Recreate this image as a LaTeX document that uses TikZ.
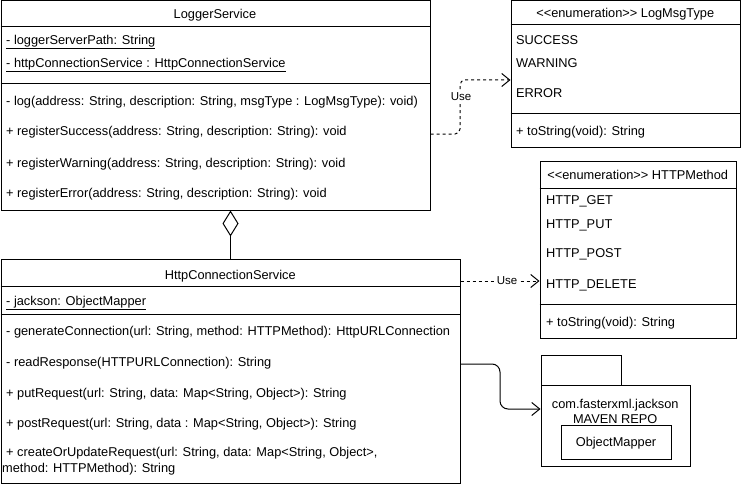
\documentclass[tikz,border=0pt]{standalone}
\usepackage{fontspec}
\setmainfont{Liberation Sans}
\usetikzlibrary{arrows.meta}
\begin{document}
\begin{tikzpicture}[x=1pt,y=-1pt,
  box/.style={draw, line width=1pt, anchor=north west, inner sep=0pt},
  sep/.style={line width=1pt},
  txt/.style={anchor=base west, inner sep=0pt, font=\fontsize{12.8}{15}\selectfont},
  ctxt/.style={anchor=base, inner sep=0pt, font=\fontsize{12.8}{15}\selectfont},
  lbl/.style={fill=white, inner sep=1pt, font=\fontsize{11.5}{13}\selectfont},
  usearrow/.style={line width=1pt, dash pattern=on 3pt off 3pt, rounded corners=5pt, -{Straight Barb[length=8pt,width=13pt,line width=1pt]}},
  solidarrow/.style={line width=1pt, rounded corners=8pt, -{Straight Barb[length=8pt,width=13pt,line width=1pt]}}]
\useasboundingbox (0,0) rectangle (741,484);

% LoggerService
\node[box, minimum width=429.5pt, minimum height=209.5pt] (ls) at (0.5,0.5) {};
\draw[sep] (0.5,26.5) -- (430,26.5);
\draw[sep] (0.5,84) -- (430,84);
\node[ctxt] (lsh) at (215,18.3) {LoggerService};
\node[txt] (ls1) at (6,44.5) {\underline{- loggerServerPath: String}};
\node[txt] (ls2) at (6,67.5) {\underline{- httpConnectionService : HttpConnectionService}};
\node[txt] (ls3) at (6,105.5) {- log(address: String, description: String, msgType : LogMsgType): void)};
\node[txt] (ls4) at (6,135.5) {+ registerSuccess(address: String, description: String): void};
\node[txt] (ls5) at (6,167.5) {+ registerWarning(address: String, description: String): void};
\node[txt] (ls6) at (6,197.5) {+ registerError(address: String, description: String): void};

% LogMsgType
\node[box, minimum width=229.5pt, minimum height=146pt] (lm) at (510.5,0.5) {};
\draw[sep] (510.5,25) -- (740,25);
\draw[sep] (510.5,114) -- (740,114);
\node[ctxt] (lmh) at (625.25,17.5) {<\kern0pt<enumeration>\kern0pt> LogMsgType};
\node[txt] (lm1) at (516,44.5) {SUCCESS};
\node[txt] (lm2) at (516,67.5) {WARNING};
\node[txt] (lm3) at (516,97.5) {ERROR};
\node[txt] (lm4) at (516,135.5) {+ toString(void): String};

% HTTPMethod
\node[box, minimum width=196.5pt, minimum height=177pt] (hm) at (539.5,161) {};
\draw[sep] (539.5,188) -- (736,188);
\draw[sep] (539.5,304) -- (736,304);
\node[ctxt] (hmh) at (637.75,179) {<\kern0pt<enumeration>\kern0pt> HTTPMethod};
\node[txt] (hm1) at (546,204.5) {HTTP\_GET};
\node[txt] (hm2) at (546,228.5) {HTTP\_PUT};
\node[txt] (hm3) at (546,257.5) {HTTP\_POST};
\node[txt] (hm4) at (546,288.5) {HTTP\_DELETE};
\node[txt] (hm5) at (546,326.5) {+ toString(void): String};

% HttpConnectionService
\node[box, minimum width=459.5pt, minimum height=223.5pt] (hc) at (0.5,259) {};
\draw[sep] (0.5,286) -- (460,286);
\draw[sep] (0.5,314) -- (460,314);
\node[ctxt] (hch) at (230.25,279.5) {HttpConnectionService};
\node[txt] (hc1) at (6,305) {\underline{- jackson: ObjectMapper}};
\node[txt] (hc2) at (6,335) {- generateConnection(url: String, method: HTTPMethod): HttpURLConnection};
\node[txt] (hc3) at (6,366) {- readResponse(HTTPURLConnection): String};
\node[txt] (hc4) at (6,397.5) {+ putRequest(url: String, data: Map<String, Object>): String};
\node[txt] (hc5) at (6,427.5) {+ postRequest(url: String, data : Map<String, Object>): String};
\node[txt] (hc6) at (6,456.5) {+ createOrUpdateRequest(url: String, data: Map<String, Object>,};
\node[txt] (hc7) at (2,472) {method: HTTPMethod): String};

% Package
\node[box, minimum width=80pt, minimum height=30pt] (pt) at (540.5,355) {};
\node[box, minimum width=149.5pt, minimum height=80.5pt] (pk) at (540.5,385) {};
\node[ctxt] (pk1) at (615.25,408.8) {com.fasterxml.jackson};
\node[ctxt] (pk2) at (615.25,423.5) {MAVEN REPO};
\node[box, minimum width=110pt, minimum height=34pt, fill=white] (om) at (560.5,424.5) {};
\node[ctxt] (omt) at (om.center) [yshift=-4.5pt] {ObjectMapper};

% connectors
\coordinate (u1s) at (430.5,134);
\coordinate (u1e) at (510.5,80);
\draw[usearrow] (u1s) -- (460,134) -- (460,80) -- (u1e);
\node[lbl] (u1l) at (461,97) {Use};

\coordinate (u2s) at (460.5,281);
\coordinate (u2e) at (539.5,281);
\draw[usearrow] (u2s) -- (u2e);
\node[lbl] (u2l) at (507,281) {Use};

\coordinate (pks) at (460.5,364);
\coordinate (pke) at (540.5,409);
\draw[solidarrow] (pks) -- (500,364) -- (500,409) -- (pke);

\coordinate (ag1) at (230.5,210.5);
\coordinate (ag2) at (230.5,259);
\draw[line width=1pt, {Diamond[open, length=26pt, width=16pt, line width=1pt]}-] (ag1) -- (ag2);
\end{tikzpicture}
\end{document}
